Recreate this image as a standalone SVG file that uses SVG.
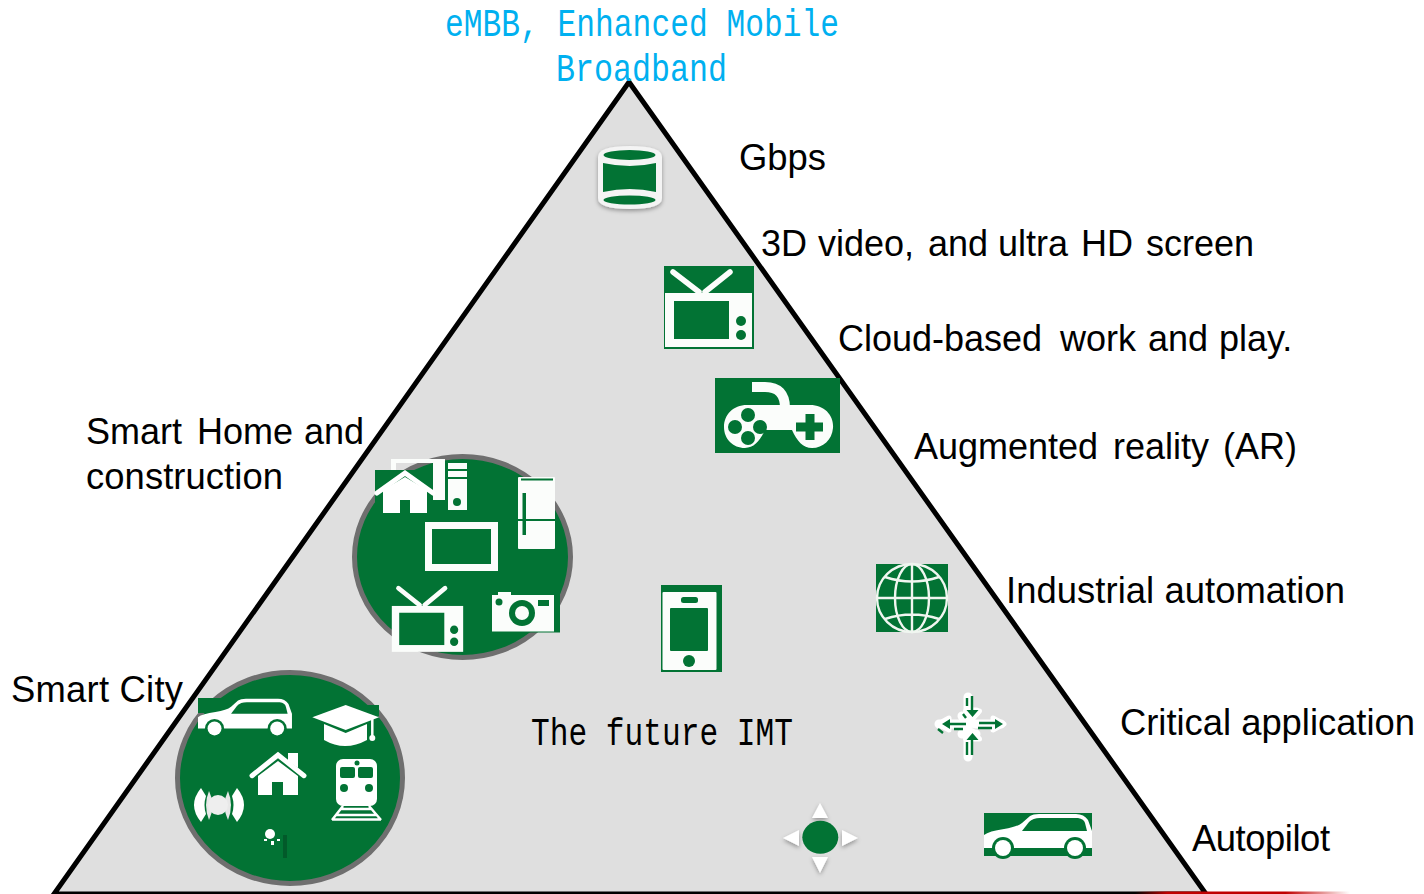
<svg xmlns="http://www.w3.org/2000/svg" xmlns:xlink="http://www.w3.org/1999/xlink" width="1424" height="894" viewBox="0 0 1424 894">
<style>
.l{font-family:"Liberation Sans",Arial,sans-serif;font-size:36.4px;fill:#000}
.n{font-size:36px}
.m{font-family:"Liberation Mono","Noto Sans CJK SC",monospace;font-size:38px}
.g{fill:#027334}.w{fill:#fff}.o{fill:#fbfdfb}
.ga{stroke:#027334;fill:none;stroke-width:2.4}
</style>
<defs>
<filter id="sh" x="-30%" y="-30%" width="170%" height="170%"><feDropShadow dx="0" dy="2" stdDeviation="2" flood-color="#000" flood-opacity=".35"/></filter>
<linearGradient id="red" x1="0" x2="1" y1="0" y2="0"><stop offset="0" stop-color="#c00000" stop-opacity="0"/><stop offset=".15" stop-color="#c00000"/><stop offset=".7" stop-color="#c00000"/><stop offset="1" stop-color="#c00000" stop-opacity="0"/></linearGradient>
<g id="car">
<path class="w" d="M0,22Q5,18 20,16Q33,14 38,10L46,3Q49,1 55,1L92,1Q100,1 104,7L108,18L108,35L0,35Z"/>
<path class="g" d="M38,18L45,9Q49,5 56,5L94,5Q100,6 101,10L103,18Z"/>
<circle class="g" cx="19" cy="35" r="11"/><circle class="g" cx="91" cy="35" r="11"/>
<circle class="w" cx="19" cy="35" r="8"/><circle class="w" cx="91" cy="35" r="8"/>
</g>
<g id="tv">
<path d="M9,6L35,26M66,6L41,26" stroke="#fbfdfb" stroke-width="5.500" stroke-linecap="round" fill="none"/>
<rect class="o" x="1" y="27" width="87" height="54"/>
<rect class="g" x="10" y="35" width="55" height="38"/>
<circle class="g" cx="77" cy="55" r="5"/><circle class="g" cx="77" cy="69" r="5"/>
</g>
</defs>

<g id="pyramid">
<path d="M629,82L1206,894L54,894Z" fill="#dfdfdf" stroke="#000" stroke-width="5"/>
<rect x="1135" y="891.500" width="215" height="2.500" fill="url(#red)"/>
</g>

<g id="titles">
<text class="m" x="445" y="36" fill="#00b0f0" textLength="394" lengthAdjust="spacingAndGlyphs">eMBB, Enhanced Mobile</text>
<text class="m" x="556" y="81" fill="#00b0f0" textLength="171" lengthAdjust="spacingAndGlyphs">Broadband</text>
<text class="m" x="531" y="745" fill="#000" textLength="262" lengthAdjust="spacingAndGlyphs">The future IMT</text>
</g>

<g id="labels">
<text class="l" x="739" y="170">Gbps</text>
<text class="l n" y="256"><tspan x="761">3D</tspan> <tspan x="818">video,</tspan> <tspan x="928">and</tspan> <tspan x="998">ultra</tspan> <tspan x="1081">HD</tspan> <tspan x="1146">screen</tspan></text>
<text class="l n" y="351"><tspan x="838">Cloud-based</tspan> <tspan x="1060">work</tspan> <tspan x="1148">and</tspan> <tspan x="1219">play.</tspan></text>
<text class="l n" y="459"><tspan x="914">Augmented</tspan> <tspan x="1113">reality</tspan> <tspan x="1223">(AR)</tspan></text>
<text class="l" x="1006" y="603" textLength="339">Industrial automation</text>
<text class="l" x="1120" y="735" textLength="295">Critical application</text>
<text class="l" x="1192" y="851" textLength="138">Autopilot</text>
<text class="l n" y="444"><tspan x="86">Smart</tspan> <tspan x="197">Home</tspan> <tspan x="304">and</tspan></text>
<text class="l" x="86" y="489" textLength="197">construction</text>
<text class="l" x="11" y="702" textLength="172">Smart City</text>
</g>

<g id="cylinder">
<g filter="url(#sh)"><path d="M598,157Q598,146 630,146Q662,146 662,157V198Q662,209 630,209Q598,209 598,198Z" fill="#f4f4f4"/></g>
<ellipse class="g" cx="629.500" cy="155" rx="26" ry="5"/>
<path class="g" d="M603,163Q630,169 656,163V192Q630,186 603,192Z"/>
<ellipse class="g" cx="629.500" cy="200" rx="26" ry="4.500"/>
</g>

<g id="tv-icon">
<rect class="g" x="664" y="266" width="90" height="83"/>
<use xlink:href="#tv" href="#tv" transform="translate(664,266)"/>
</g>

<g id="gamepad">
<rect class="g" x="715" y="378" width="125" height="75"/>
<g transform="translate(715,378)">
<path d="M37,9H50Q70,9 70,30" stroke="#fbfdfb" stroke-width="10" fill="none"/>
<path class="o" d="M32,27H95C110,27 119,38 118,50C117,62 108,70 97,70C88,70 82,63 77,52H50C45,63 39,70 30,70C18,70 9,61 9,49C9,37 18,27 32,27Z"/>
<circle class="g" cx="20" cy="49" r="7"/><circle class="g" cx="33" cy="37" r="7"/><circle class="g" cx="45" cy="49" r="7"/><circle class="g" cx="33" cy="60" r="7"/>
<path d="M95,36V62M81,49H108" stroke="#027334" stroke-width="9" fill="none"/>
</g>
</g>

<g id="globe">
<rect class="g" x="876" y="564" width="72" height="68"/>
<g fill="none" stroke="#f0f6f0" stroke-width="2.400">
<ellipse cx="912" cy="598" rx="35" ry="34"/>
<ellipse cx="912" cy="598" rx="17" ry="34"/>
<path d="M912,564V632M877,598H947M885,577Q912,586 939,577M885,619Q912,610 939,619"/>
</g>
</g>

<g id="phone">
<rect class="g" x="661" y="585" width="61" height="87"/>
<rect class="o" x="662.500" y="592" width="54" height="78" rx="1"/>
<rect class="g" x="670" y="608" width="38" height="43" rx="1"/>
<rect class="g" x="681" y="597" width="17" height="6" rx="2.500"/>
<circle class="g" cx="689" cy="661" r="6"/>
</g>

<g id="critical">
<path d="M968,697V712H976M975,724H1001M968,724H939M962,716L968,721M968,757V734H976M962,734L968,729" stroke="#fff" stroke-width="9" stroke-linecap="round" stroke-linejoin="round" fill="none"/>
<path d="M972.500,719l-7,-8h14zM938,724l11,-6v12zM1004,724l-11,-6v12zM972.500,731l-7,8h14z" fill="#fff" stroke="#fff" stroke-width="5" stroke-linejoin="round"/>
<path class="ga" d="M972,696V712M967,698V706M950,724H966M954,729H963M979,723H996M978,728H992M972,738V755M967,742V755M963,714L966,718M938,729L943,733"/>
<path class="g" d="M972.500,717l-6,-7h12zM942,724l8,-5v10zM1003,724l-8,-5v10zM972.500,733l-6,7h12z"/>
</g>

<g id="move">
<g filter="url(#sh)" class="w">
<path d="M820,803L828,818H812Z"/><path d="M820,873L828,857H812Z"/>
<path d="M783,838L799,830V846Z"/><path d="M858,838L842,830V846Z"/>
</g>
<ellipse class="g" cx="820.300" cy="837.300" rx="18" ry="16.500"/>
</g>

<g id="autopilot">
<rect class="g" x="984" y="813" width="108" height="43"/>
<use xlink:href="#car" href="#car" transform="translate(984,813)"/>
</g>

<g id="smart-city">
<ellipse class="g" cx="290" cy="778" rx="112.500" ry="105.500" stroke="#6f6f6f" stroke-width="5"/>
<rect class="g" x="198" y="698" width="24" height="15"/>
<rect class="g" x="367" y="705" width="12" height="11"/>
<use xlink:href="#car" href="#car" transform="translate(198,698) scale(.87)"/>
<path class="w" d="M345.700,705L379,717.300L345.700,730L312.300,717.300Z"/>
<path class="w" d="M324,724L345.700,733L367,724V740Q345,752 324,740Z"/>
<path d="M372.300,717V740" stroke="#fff" stroke-width="2.500"/><circle class="w" cx="372.300" cy="738" r="3"/>
<path d="M252,775.700L278,755L304,775.700" stroke="#fff" stroke-width="5" stroke-linecap="round" fill="none"/>
<path class="w" d="M258,776L278,761L298,776V795H283V782H272V795H258ZM288,753H298V768L288,761Z"/>
<rect class="w" x="336" y="759" width="41" height="47" rx="7"/>
<rect class="g" x="340" y="767" width="15" height="11" rx="2"/><rect class="g" x="358" y="767" width="15" height="11" rx="2"/>
<circle class="g" cx="357" cy="763" r="2.500"/><circle class="g" cx="344" cy="788" r="4"/><circle class="g" cx="369" cy="788" r="4"/>
<path d="M343,806L332,820M369,806L381,820M340,809H372M336,815H376M332,819.500H381" stroke="#fff" stroke-width="2.500" fill="none"/>
<g fill="#fff">
<path d="M201,788Q187,805 201,822L206,814Q203,805 206,796Z"/><path d="M209,791Q203,805 209,820Q216,805 209,791Z" fill="#e8e8e8"/>
<path d="M237,788Q251,805 237,822L232,814Q235,805 232,796Z"/><path d="M228,791Q234,805 228,820Q221,805 228,791Z" fill="#e8e8e8"/>
<ellipse cx="218" cy="805" rx="10" ry="10" fill="#eeeeee"/>
</g>
<circle class="w" cx="270" cy="834" r="5"/>
<rect class="w" x="264" y="839" width="3" height="2"/><rect class="w" x="271" y="841" width="3" height="4"/><rect class="w" x="277" y="839" width="3" height="2"/>
<rect x="283" y="835" width="4" height="23" fill="#025a2a"/>
</g>

<g id="smart-home">
<ellipse class="g" cx="462.500" cy="557" rx="108" ry="100.500" stroke="#6f6f6f" stroke-width="5"/>
<path fill-rule="evenodd" class="o" d="M391,459H445V500H433V463H396V470H391Z"/>
<rect class="o" x="448" y="463" width="19" height="47"/>
<path d="M448,470H467M448,478H467" stroke="#027334" stroke-width="2"/><circle class="g" cx="457" cy="502" r="4"/>
<rect class="g" x="375" y="470" width="52" height="43"/>
<path d="M377,493L405,473L433,493" stroke="#fff" stroke-width="5" stroke-linecap="round" fill="none"/>
<path class="w" d="M383,490L405,477L427,490V513H410V500H400V513H383Z"/>
<rect class="o" x="518" y="477" width="37" height="72" rx="1"/>
<path d="M521,479.500H553M518,520H555" stroke="#027334" stroke-width="2"/>
<rect class="g" x="522.500" y="493" width="3.500" height="42"/>
<rect x="428.500" y="525.500" width="66" height="42" fill="none" stroke="#fbfdfb" stroke-width="7"/>
<use xlink:href="#tv" href="#tv" transform="translate(391,583) scale(.82,.85)"/>
<rect class="g" x="492" y="592" width="68" height="40.500"/>
<rect class="o" x="492" y="595" width="62" height="36.500"/><rect class="o" x="498" y="592" width="13" height="4"/>
<circle class="g" cx="499" cy="602" r="3.500"/><rect class="g" x="538" y="600" width="11" height="6"/>
<circle class="g" cx="522" cy="613" r="13"/><circle class="o" cx="522" cy="613" r="7"/>
</g>
</svg>
